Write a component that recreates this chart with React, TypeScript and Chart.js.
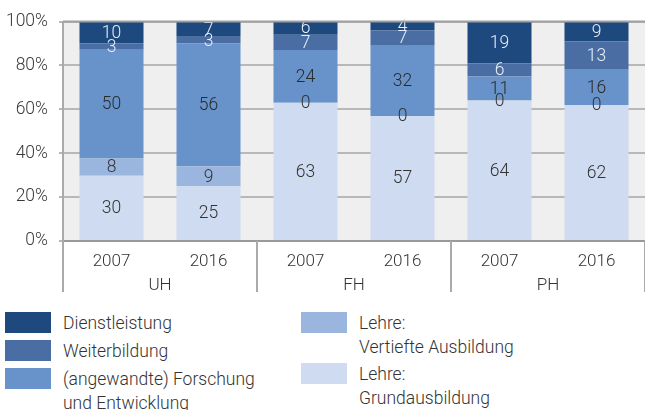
import React, { useEffect, useRef } from 'react';
import { Chart, registerables } from 'chart.js';

Chart.register(...registerables);

const years = ['2007', '2016', '2007', '2016', '2007', '2016'];
const groups = ['UH', 'FH', 'PH'];
const grundausbildung = [30, 25, 63, 57, 64, 62];
const vertiefte = [8, 9, 0, 0, 0, 0];
const forschung = [50, 56, 24, 32, 11, 16];
const weiterbildung = [3, 3, 7, 7, 6, 13];
const dienstleistung = [10, 7, 6, 4, 19, 9];
const yTicks = [0, 20, 40, 60, 80, 100];

const seriesNames = [
  'Lehre: Grundausbildung',
  'Lehre: Vertiefte Ausbildung',
  '(angewandte) Forschung und Entwicklung',
  'Weiterbildung',
  'Dienstleistung',
];
const seriesValues = [grundausbildung, vertiefte, forschung, weiterbildung, dienstleistung];
const colors = ['#cfdbf0', '#9bb6de', '#6893ca', '#4a6ea4', '#1d497e'];
const labelColors = ['#333333', '#333333', '#2a2a2a', '#e8eef7', '#e8eef7'];

const totals = years.map((_, i) => seriesValues.reduce((s, arr) => s + arr[i], 0));

const FONT = 'Roboto, "Noto Sans", sans-serif';

const bgPlugin = {
  id: 'bgPlugin',
  beforeDraw(chart: any) {
    const { ctx, chartArea } = chart;
    ctx.save();
    ctx.fillStyle = '#efefef';
    ctx.fillRect(chartArea.left, chartArea.top, chartArea.right - chartArea.left, chartArea.bottom - chartArea.top);
    ctx.restore();
  },
};

const labelPlugin = {
  id: 'labelPlugin',
  afterDatasetsDraw(chart: any) {
    const { ctx } = chart;
    ctx.save();
    ctx.font = `300 17.5px ${FONT}`;
    ctx.textAlign = 'center';
    ctx.textBaseline = 'middle';
    chart.data.datasets.forEach((ds: any, di: number) => {
      const meta = chart.getDatasetMeta(di);
      meta.data.forEach((el: any, i: number) => {
        const { x, y, base } = el.getProps(['x', 'y', 'base'], true);
        ctx.fillStyle = labelColors[di];
        ctx.fillText(String(seriesValues[di][i]), x, (y + base) / 2 + 1);
      });
    });
    ctx.restore();
  },
};

const axisPlugin = {
  id: 'axisPlugin',
  afterDraw(chart: any) {
    const { ctx, chartArea, scales } = chart;
    const xs = scales.x;
    const bottom = chartArea.bottom;
    ctx.save();
    ctx.strokeStyle = '#a0a0a0';
    ctx.lineWidth = 2;
    ctx.beginPath();
    ctx.moveTo(chartArea.left, chartArea.top);
    ctx.lineTo(chartArea.right, chartArea.top);
    ctx.stroke();
    ctx.font = `300 17px ${FONT}`;
    ctx.fillStyle = '#333333';
    ctx.textAlign = 'center';
    ctx.textBaseline = 'middle';
    years.forEach((y, i) => {
      ctx.fillText(y, xs.getPixelForValue(i), bottom + 21);
    });
    const step = (chartArea.right - chartArea.left) / years.length;
    groups.forEach((g, gi) => {
      const cx = chartArea.left + step * (gi * 2 + 1);
      ctx.fillText(g, cx, bottom + 45);
    });
    ctx.strokeStyle = '#aaaaaa';
    ctx.lineWidth = 2;
    for (let gi = 0; gi <= groups.length; gi++) {
      const x = Math.round(chartArea.left + step * gi * 2);
      ctx.beginPath();
      ctx.moveTo(x, bottom);
      ctx.lineTo(x, bottom + 51);
      ctx.stroke();
    }
    ctx.restore();
  },
};

function ChartCanvas() {
  const ref = useRef<HTMLCanvasElement | null>(null);
  useEffect(() => {
    if (!ref.current) return;
    const chart = new Chart(ref.current, {
      type: 'bar',
      data: {
        labels: years.map((y, i) => `${groups[Math.floor(i / 2)]} ${y}`),
        datasets: seriesValues.map((arr, di) => ({
          label: seriesNames[di],
          data: arr.map((v, i) => (v / totals[i]) * 100),
          backgroundColor: colors[di],
          borderWidth: 0,
          barPercentage: 0.66,
          categoryPercentage: 1,
        })),
      },
      options: {
        animation: false,
        responsive: false,
        maintainAspectRatio: false,
        layout: { padding: { top: 19, right: 0, bottom: 0, left: 0 } },
        plugins: { legend: { display: false }, tooltip: { enabled: false } },
        scales: {
          x: {
            stacked: true,
            ticks: { display: false },
            grid: { display: false },
            border: { display: true, color: '#999999', width: 2 },
            afterFit: (s: any) => {
              s.height = 59;
            },
          },
          y: {
            stacked: true,
            min: 0,
            max: 100,
            afterBuildTicks: (s: any) => {
              const t: any[] = [];
              for (let v = 0; v <= 100; v += 10) t.push({ value: v });
              s.ticks = t;
            },
            ticks: {
              padding: 11,
              color: '#3a3a3a',
              font: { family: FONT, size: 17.5, weight: '300' },
              callback: (v: any) => (yTicks.includes(Number(v)) ? `${v}%` : ''),
            },
            grid: { color: '#b8b8b8', lineWidth: 2, tickLength: 4, drawTicks: true },
            border: { display: true, color: '#aaaaaa', width: 2 },
            afterFit: (s: any) => {
              s.width = 63;
            },
          },
        },
      },
      plugins: [bgPlugin, labelPlugin, axisPlugin],
    });
    return () => chart.destroy();
  }, []);
  return <canvas ref={ref} width={645} height={300} style={{ display: 'block', width: 645, height: 300 }} />;
}

const legendLeft = [
  { color: colors[4], boxTop: 312, lines: ['Dienstleistung'] },
  { color: colors[3], boxTop: 340, lines: ['Weiterbildung'] },
  { color: colors[2], boxTop: 368, lines: ['(angewandte) Forschung', 'und Entwicklung'] },
];
const legendRight = [
  { color: colors[1], boxTop: 312, lines: ['Lehre:', 'Vertiefte Ausbildung'] },
  { color: colors[0], boxTop: 363, lines: ['Lehre:', 'Grundausbildung'] },
];

function LegendItem({ item, boxLeft, textLeft }: any) {
  return (
    <>
      <div
        style={{
          position: 'absolute',
          left: boxLeft,
          top: item.boxTop,
          width: 46,
          height: 21,
          background: item.color,
        }}
      />
      <div
        style={{
          position: 'absolute',
          left: textLeft,
          top: item.boxTop,
          fontFamily: FONT,
          fontSize: 17.5,
          fontWeight: 300,
          lineHeight: '23.5px',
          color: '#333333',
          whiteSpace: 'nowrap',
        }}
      >
        {item.lines.map((l: string, i: number) => (
          <div key={i}>{l}</div>
        ))}
      </div>
    </>
  );
}

export default function App() {
  return (
    <div style={{ position: 'fixed', left: 0, top: 0, width: 645, height: 410, background: '#ffffff', overflow: 'hidden' }}>
      <ChartCanvas />
      {legendLeft.map((it, i) => (
        <LegendItem key={'l' + i} item={it} boxLeft={5} textLeft={63} />
      ))}
      {legendRight.map((it, i) => (
        <LegendItem key={'r' + i} item={it} boxLeft={301} textLeft={359} />
      ))}
    </div>
  );
}
